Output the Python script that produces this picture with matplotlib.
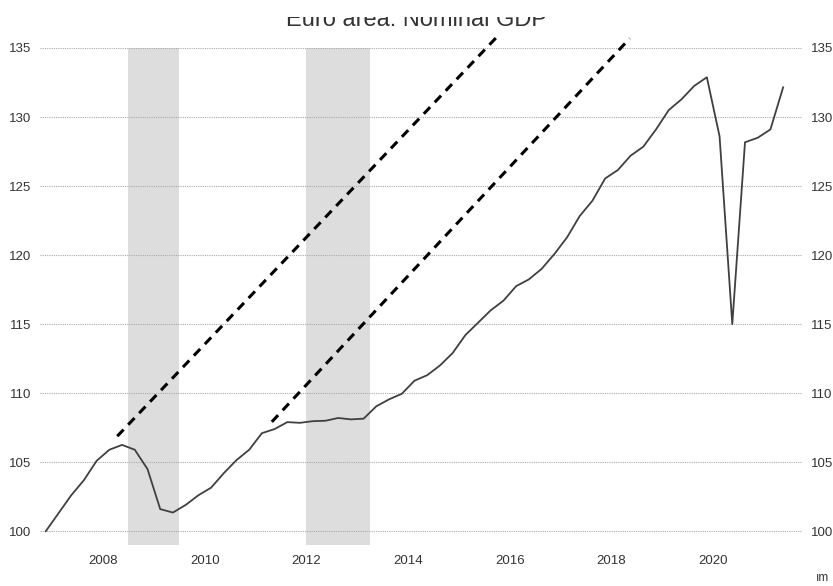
import matplotlib
matplotlib.use("Agg")
import matplotlib.pyplot as plt
import pandas as pd
from matplotlib.patches import Rectangle

# ---------------- data ----------------
quarters = [str(p) for p in pd.period_range("2006Q4", "2021Q2", freq="Q")]
gdp = [100.0, 101.3, 102.6, 103.7, 105.1, 105.9, 106.25, 105.9, 104.5, 101.6,
       101.35, 101.9, 102.6, 103.15, 104.2, 105.15, 105.9, 107.1, 107.4, 107.9,
       107.85, 107.97, 108.0, 108.2, 108.1, 108.15, 109.05, 109.55, 109.95, 110.9,
       111.3, 112.0, 112.9, 114.2, 115.1, 116.0, 116.7, 117.75, 118.24, 119.0,
       120.07, 121.28, 122.83, 123.94, 125.55, 126.16, 127.2, 127.85, 129.1, 130.5,
       131.28, 132.25, 132.88, 128.6, 115.0, 128.17, 128.5, 129.1, 132.15]
recession_start = [2008.5, 2012.0]
recession_end = [2009.5, 2013.25]
trend1_x = [2008.28, 2015.74]
trend1_y = [106.88, 135.78]
trend2_x = [2011.32, 2018.36]
trend2_y = [107.92, 135.70]
ytick_values = [100, 105, 110, 115, 120, 125, 130, 135]
xtick_years = [2008, 2010, 2012, 2014, 2016, 2018, 2020]
xtick_labels = ["2008", "2010", "2012", "2014", "2016", "2018", "2020"]
title = "Euro area: Nominal GDP"
source_fragment = "ım"

# quarter -> mid-quarter decimal year
xq = [int(q[:4]) + (int(q[-1]) - 0.5) / 4 for q in quarters]

plt.rcParams['font.family'] = ['Liberation Sans', 'DejaVu Sans']
fig = plt.figure(figsize=(8.33, 5.86), dpi=100)
ax = fig.add_axes([40 / 833, 1 - 545 / 586, 762 / 833, 497 / 586])

ax.set_xlim(2006.761, 2021.746)
ax.set_ylim(99, 135)

for s, e in zip(recession_start, recession_end):
    ax.fill_between([s, e], 99, 135, color="#dddddd", lw=0, zorder=0)

for v in ytick_values:
    ax.axhline(v, color="#aaaaaa", lw=0.8, ls=(0, (1, 1)), zorder=1)

ax.plot(xq, gdp, color="#404040", lw=1.3, zorder=3)
ax.plot(trend1_x, trend1_y, color="black", lw=2.2, dashes=(3, 2.2),
        clip_on=False, zorder=4)
ax.plot(trend2_x, trend2_y, color="black", lw=2.2, dashes=(3, 2.2),
        clip_on=False, zorder=4)

for sp in ax.spines.values():
    sp.set_visible(False)
ax.set_yticks(ytick_values)
ax.set_yticklabels([str(v) for v in ytick_values])
ax.set_xticks(xtick_years)
ax.set_xticklabels(xtick_labels)
ax.tick_params(axis="y", left=False, right=False, labelleft=True,
               labelright=True, labelsize=9.5, labelcolor="#333333", pad=3)
ax.tick_params(axis="x", bottom=False, labelsize=9.5, labelcolor="#333333", pad=4)

# title (partially hidden at top as in reference)
fig.text(0.5 * (270 + 562) / 833, 1 - 26 / 586, title, ha="center",
         va="baseline", fontsize=17, color="#333333")
fig.add_artist(Rectangle((0, 1 - 17 / 586), 1, 17 / 586, transform=fig.transFigure,
                         facecolor="white", edgecolor="none", zorder=10))
# source fragment at bottom right
fig.text(829 / 833, 1 - 584 / 586, source_fragment, ha="right", va="bottom",
         fontsize=8.5, color="#333333")

fig.savefig("out.png", dpi=100)
